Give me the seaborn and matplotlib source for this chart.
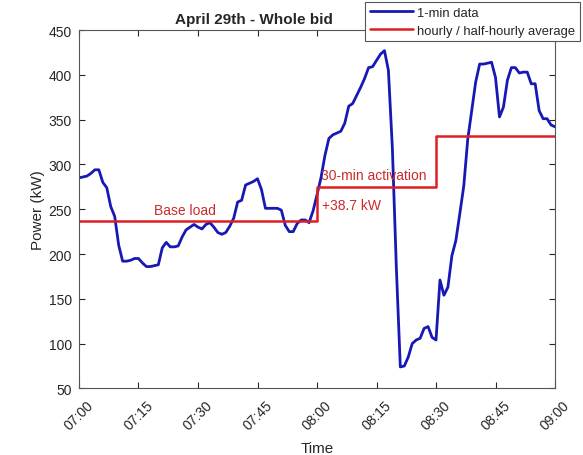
import numpy as np
import pandas as pd
import seaborn as sns
import matplotlib
matplotlib.use("Agg")
import matplotlib.pyplot as plt

# 1-minute power readings, 07:00 .. 09:00 (minutes after 07:00 -> kW)
minutes = list(range(0, 121))
power_1min = [
    285, 286, 287, 290, 294, 294, 280, 274, 253, 242,
    210, 192, 192, 193, 195, 195, 190, 186, 186, 187,
    188, 207, 213, 208, 208, 209, 219, 227, 230, 233,
    230, 228, 233, 235, 230, 224, 222, 224, 231, 240,
    258, 260, 277, 279, 281, 284, 272, 251, 251, 251,
    251, 249, 232, 225, 225, 234, 238, 238, 235, 248,
    266, 285, 310, 329, 333, 335, 337, 346, 365, 368,
    377, 386, 396, 408, 409, 416, 423, 427, 405, 318,
    185, 74, 75, 85, 100, 104, 106, 117, 119, 107,
    104, 171, 154, 163, 198, 215, 245, 276, 328, 360,
    392, 412, 412, 413, 414, 397, 353, 364, 394, 408,
    408, 402, 403, 403, 390, 390, 360, 351, 351, 344,
    342,
]

# hourly / half-hourly averages (step starts, in minutes after 07:00)
avg_start = [0, 60, 90, 120]
base_load = 236.5
activation_delta = 38.7
avg_power = [base_load, base_load + activation_delta, 332.0, 332.0]

tick_minutes = [0, 15, 30, 45, 60, 75, 90, 105, 120]
tick_labels = ["07:00", "07:15", "07:30", "07:45", "08:00",
               "08:15", "08:30", "08:45", "09:00"]
y_ticks = [50, 100, 150, 200, 250, 300, 350, 400, 450]

sns.set_theme(style="white")
plt.rcParams["font.family"] = ["Liberation Sans", "DejaVu Sans"]

blue = "#1818b4"
red = "#de1e22"
text_red = "#cc2a2a"
axis_grey = "#262626"

df_1min = pd.DataFrame({"t": minutes, "p": power_1min})
df_avg = pd.DataFrame({"t": avg_start, "p": avg_power})

fig = plt.figure(figsize=(5.83, 4.56), dpi=100)
ax = fig.add_axes([0.1355, 0.146, 0.8165, 0.786])

sns.lineplot(data=df_1min, x="t", y="p", ax=ax, color=blue, linewidth=2.0,
             label="1-min data")
sns.lineplot(data=df_avg, x="t", y="p", ax=ax, color=red, linewidth=1.8,
             drawstyle="steps-post", label="hourly / half-hourly average")

ax.set_xlim(0, 120)
ax.set_ylim(50, 450)
ax.set_xticks(tick_minutes)
ax.set_xticklabels(tick_labels, rotation=45, ha="center")
ax.set_yticks(y_ticks)
ax.tick_params(axis="both", direction="in", length=4, width=0.8,
               labelsize=10, colors=axis_grey, top=True, right=True,
               bottom=True, left=True)
ax.tick_params(axis="x", pad=7)
ax.tick_params(axis="y", pad=5)
for side in ["top", "right", "bottom", "left"]:
    ax.spines[side].set_visible(True)
    ax.spines[side].set_color("#555555")
    ax.spines[side].set_linewidth(0.8)

ax.set_xlabel("Time", fontsize=11, color=axis_grey, labelpad=6)
ax.set_ylabel("Power (kW)", fontsize=11, color=axis_grey, labelpad=3)
ax.set_title("April 29th - Whole bid", fontsize=11, fontweight="bold",
             color=axis_grey, pad=5, x=0.367, ha="center")

ax.text(26.8, 249, "Base load", color=text_red, fontsize=10,
        ha="center", va="center")
ax.text(61, 288, "30-min activation", color=text_red, fontsize=10,
        ha="left", va="center")
ax.text(61.3, 255, f"+{activation_delta} kW", color=text_red, fontsize=10,
        ha="left", va="center")

leg = ax.legend(loc="upper right", bbox_to_anchor=(0.995, 0.993),
                bbox_transform=fig.transFigure, fontsize=9.4, frameon=True,
                fancybox=False, framealpha=1, edgecolor="#555555",
                handlelength=3.3, borderpad=0.35, labelspacing=0.45,
                handletextpad=0.35, borderaxespad=0)
leg.get_frame().set_linewidth(0.8)
for txt in leg.get_texts():
    txt.set_color(axis_grey)

fig.savefig("out.png", dpi=100, facecolor="white")
